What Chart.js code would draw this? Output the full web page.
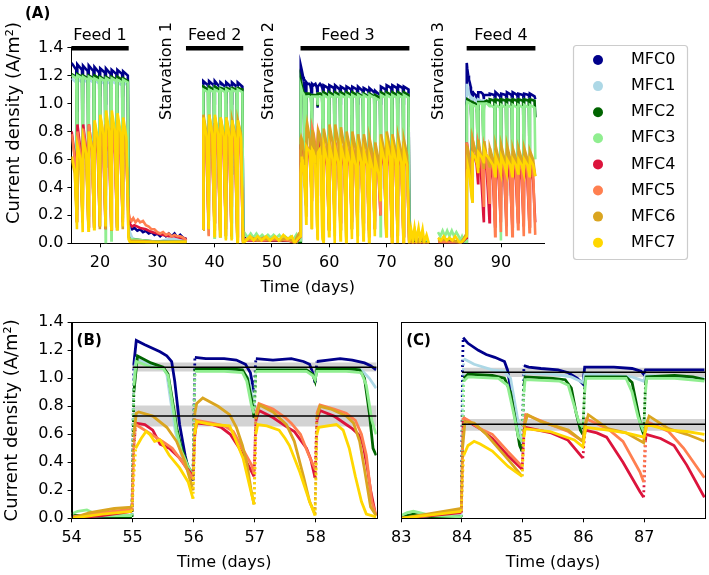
<!DOCTYPE html>
<html>
<head>
<meta charset="utf-8">
<script src="https://cdn.jsdelivr.net/npm/chart.js@4.4.1/dist/chart.umd.min.js"></script>
<style>
  html, body { margin: 0; padding: 0; background: #fff; }
  #wrap { position: relative; width: 709px; height: 575px; }
  canvas { position: absolute; }
</style>
</head>
<body>
<div id="wrap">
  <canvas id="chartA" width="709" height="300" style="left:0;top:0"></canvas>
  <canvas id="chartB" width="385" height="275" style="left:0;top:300px"></canvas>
  <canvas id="chartC" width="324" height="275" style="left:385px;top:300px"></canvas>
</div>
<script>
const names = ['MFC0', 'MFC1', 'MFC2', 'MFC3', 'MFC4', 'MFC5', 'MFC6', 'MFC7'];
const colors = ['#00008b', '#add8e6', '#006400', '#90ee90', '#dc143c', '#ff7f50', '#daa520', '#ffd700'];

const yTicks = [0, 0.2, 0.4, 0.6, 0.8, 1.0, 1.2, 1.4];
const xTicksA = [20, 30, 40, 50, 60, 70, 80, 90];
const xTicksB = [54, 55, 56, 57, 58];
const xTicksC = [83, 84, 85, 86, 87];

// feeding periods (black bars) and the text above panel A
const feedNames = ['Feed 1', 'Feed 2', 'Feed 3', 'Feed 4'];
const feedStart = [15, 35, 55, 84];
const feedEnd = [25, 45, 74, 96];
const feedLabelAt = [20, 40, 63.3, 90];
const starvNames = ['Starvation 1', 'Starvation 2', 'Starvation 3'];
const starvLabelAt = [31.7, 49.4, 79.2];

// start day of each daily cycle drawn coarse in panel A
// (days 55-58 and 84-87 come from the detailed panels B and C)
const feedDays = [
  15, 16, 17, 18, 19, 20, 21, 22, 23, 24,
  38, 39, 40, 41, 42, 43, 44,
  59, 60, 61, 62, 63, 64, 65, 66, 67, 68, 69, 70, 71, 72, 73,
  88, 89, 90, 91, 92, 93, 94, 95
];

// current density right after feeding, late in the cycle, and at the end of the cycle
const cycleTop = [
  [1.29,1.28,1.27,1.27,1.26,1.25,1.25,1.24,1.24,1.23,
   1.16,1.16,1.16,1.15,1.15,1.15,1.15,
   1.13,1.13,1.13,1.12,1.12,1.12,1.12,1.11,1.11,1.09,1.12,1.13,1.13,1.13,1.12,
   1.07,1.08,1.07,1.08,1.08,1.07,1.07,1.07],
  [1.18,1.18,1.17,1.17,1.17,1.16,1.16,1.16,1.15,1.15,
   1.12,1.12,1.12,1.12,1.11,1.11,1.11,
   1.07,1.07,1.07,1.07,1.07,1.07,1.07,1.07,1.07,1.06,1.07,1.07,1.07,1.07,1.07,
   1.03,1.03,1.03,1.03,1.03,1.03,1.03,1.03],
  [1.21,1.21,1.2,1.2,1.2,1.19,1.19,1.19,1.19,1.18,
   1.12,1.12,1.12,1.11,1.11,1.11,1.11,
   1.08,1.08,1.08,1.08,1.08,1.08,1.07,1.07,1.07,1.06,1.08,1.08,1.08,1.08,1.08,
   1.03,1.03,1.03,1.03,1.03,1.03,1.03,1.03],
  [1.2,1.2,1.19,1.19,1.18,1.18,1.18,1.18,1.17,1.17,
   1.1,1.1,1.1,1.1,1.1,1.1,1.1,
   1.06,1.06,1.06,1.06,1.06,1.06,1.06,1.06,1.06,1.04,1.06,1.06,1.06,1.06,1.06,
   0.99,0.99,0.99,0.99,0.99,0.99,0.99,0.99],
  [0.8,0.85,0.85,0.85,0.82,0.85,0.85,0.82,0.8,0.8,
   0.88,0.88,0.86,0.86,0.85,0.85,0.84,
   0.72,0.7,0.72,0.7,0.68,0.7,0.68,0.66,0.65,0.62,0.7,0.7,0.68,0.66,0.65,
   0.6,0.62,0.62,0.6,0.6,0.6,0.58,0.58],
  [0.78,0.8,0.82,0.85,0.87,0.85,0.85,0.82,0.8,0.8,
   0.85,0.85,0.84,0.84,0.83,0.83,0.82,
   0.72,0.74,0.72,0.7,0.72,0.7,0.7,0.68,0.68,0.65,0.72,0.72,0.7,0.68,0.66,
   0.68,0.68,0.66,0.68,0.66,0.66,0.65,0.65],
  [0.6,0.62,0.7,0.8,0.85,0.9,0.9,0.9,0.88,0.85,
   0.92,0.92,0.9,0.9,0.9,0.88,0.88,
   0.82,0.85,0.85,0.83,0.8,0.8,0.78,0.78,0.75,0.72,0.78,0.8,0.78,0.76,0.74,
   0.68,0.7,0.7,0.7,0.68,0.68,0.68,0.66],
  [0.62,0.7,0.75,0.8,0.88,0.92,0.95,0.95,0.93,0.9,
   0.9,0.92,0.92,0.9,0.9,0.88,0.88,
   0.7,0.7,0.68,0.7,0.68,0.66,0.68,0.66,0.62,0.6,0.7,0.72,0.7,0.68,0.66,
   0.6,0.62,0.62,0.6,0.6,0.6,0.6,0.6]
];
const cycleEnd = [
  [1.24,1.24,1.23,1.23,1.22,1.22,1.21,1.21,1.21,1.2,
   1.13,1.13,1.12,1.12,1.12,1.12,1.12,
   1.11,1.11,1.1,1.1,1.1,1.1,1.09,1.09,1.08,1.06,1.1,1.11,1.11,1.11,1.1,
   1.06,1.05,1.06,1.06,1.06,1.06,1.06,1.05],
  [1.15,1.15,1.15,1.15,1.14,1.14,1.14,1.14,1.13,1.13,
   1.1,1.1,1.1,1.1,1.09,1.09,1.09,
   1.06,1.06,1.06,1.06,1.06,1.06,1.06,1.06,1.06,1.04,1.06,1.06,1.06,1.06,1.06,
   1.02,1.02,1.02,1.02,1.02,1.02,1.02,1.02],
  [1.19,1.19,1.18,1.18,1.18,1.17,1.17,1.17,1.17,1.16,
   1.1,1.1,1.1,1.1,1.1,1.1,1.1,
   1.06,1.06,1.06,1.06,1.06,1.06,1.05,1.05,1.05,1.04,1.06,1.06,1.06,1.06,1.06,
   1.02,1.02,1.02,1.02,1.02,1.02,1.02,1.02],
  [1.18,1.18,1.17,1.17,1.16,1.16,1.16,1.16,1.15,1.15,
   1.08,1.08,1.08,1.08,1.08,1.08,1.08,
   1.04,1.04,1.04,1.04,1.04,1.04,1.04,1.04,1.04,1.02,1.04,1.04,1.04,1.04,1.04,
   0.97,0.97,0.97,0.97,0.97,0.97,0.97,0.97],
  [0.62,0.66,0.66,0.66,0.64,0.66,0.66,0.64,0.62,0.62,
   0.65,0.65,0.65,0.65,0.65,0.65,0.65,
   0.55,0.55,0.55,0.55,0.55,0.55,0.55,0.55,0.55,0.5,0.55,0.55,0.55,0.55,0.55,
   0.45,0.45,0.45,0.45,0.45,0.45,0.45,0.45],
  [0.6,0.62,0.64,0.66,0.68,0.66,0.66,0.64,0.62,0.62,
   0.62,0.62,0.62,0.62,0.62,0.62,0.62,
   0.58,0.58,0.58,0.58,0.58,0.58,0.58,0.58,0.58,0.54,0.58,0.58,0.58,0.58,0.58,
   0.52,0.52,0.52,0.52,0.52,0.52,0.52,0.52],
  [0.5,0.52,0.6,0.68,0.72,0.76,0.76,0.76,0.75,0.72,
   0.78,0.78,0.78,0.78,0.78,0.78,0.78,
   0.7,0.72,0.72,0.7,0.68,0.68,0.66,0.66,0.64,0.6,0.66,0.68,0.66,0.65,0.63,
   0.6,0.6,0.6,0.6,0.6,0.6,0.6,0.6],
  [0.52,0.6,0.64,0.68,0.75,0.78,0.8,0.8,0.79,0.76,
   0.76,0.78,0.78,0.76,0.76,0.75,0.75,
   0.6,0.6,0.58,0.6,0.58,0.56,0.58,0.56,0.53,0.5,0.6,0.62,0.6,0.58,0.56,
   0.56,0.56,0.56,0.56,0.56,0.56,0.56,0.56]
];
const cycleLow = [
  [0.95,1.0,1.05,1.0,1.05,1.0,1.05,1.05,1.05,0.2,
   1.0,1.0,1.0,1.0,1.0,1.0,0.05,
   1.0,1.0,1.0,1.0,1.0,1.0,1.0,1.0,1.0,1.0,1.0,1.0,1.0,1.0,0.08,
   1.0,0.97,1.0,1.0,1.0,1.0,1.0,1.03],
  [0.4,0.35,0.3,0.3,0.3,0.25,0.3,0.3,0.3,0.15,
   0.3,0.2,0.2,0.2,0.15,0.15,0.03,
   0.5,0.4,0.5,0.45,0.5,0.4,0.5,0.45,0.5,0.4,0.5,0.45,0.5,0.45,0.03,
   0.6,0.3,0.6,0.6,0.6,0.6,0.6,0.9],
  [0.6,0.55,0.5,0.6,0.5,0.55,0.6,0.65,0.6,0.05,
   0.5,0.4,0.5,0.45,0.5,0.45,0.03,
   0.7,0.6,0.7,0.6,0.7,0.65,0.7,0.6,0.7,0.6,0.7,0.65,0.7,0.6,0.03,
   0.6,0.4,0.6,0.6,0.55,0.6,0.6,0.9],
  [0.25,0.2,0.18,0.15,0.12,0.0,0.02,0.12,0.18,0.05,
   0.06,0.04,0.05,0.03,0.04,0.03,0.04,
   0.1,0.05,0.08,0.04,0.1,0.06,0.05,0.08,0.1,0.05,0.06,0.1,0.05,0.08,0.04,
   0.4,0.02,0.35,0.4,0.35,0.4,0.45,0.6],
  [0.15,0.15,0.12,0.12,0.12,0.1,0.1,0.12,0.15,0.18,
   0.1,0.15,0.1,0.1,0.05,0.05,0.02,
   0.1,0.2,0.15,0.2,0.15,0.1,0.15,0.1,0.1,0.2,0.1,0.05,0.05,0.05,0.02,
   0.12,0.15,0.12,0.12,0.15,0.12,0.12,0.15],
  [0.15,0.18,0.2,0.2,0.2,0.15,0.15,0.2,0.2,0.22,
   0.05,0.15,0.1,0.05,0.05,0.02,0.02,
   0.15,0.15,0.1,0.15,0.1,0.1,0.1,0.05,0.1,0.2,0.05,0.0,0.0,0.0,0.0,
   0.05,0.08,0.05,0.05,0.1,0.05,0.08,0.06],
  [0.15,0.15,0.12,0.12,0.1,0.1,0.1,0.1,0.1,0.05,
   0.1,0.1,0.05,0.05,0.05,0.03,0.02,
   0.1,0.1,0.1,0.05,0.1,0.1,0.08,0.1,0.15,0.3,0.1,0.05,0.05,0.05,0.02,
   0.52,0.5,0.5,0.52,0.5,0.5,0.5,0.48],
  [0.1,0.08,0.09,0.1,0.12,0.12,0.1,0.1,0.12,0.03,
   0.1,0.05,0.05,0.02,0.02,0.0,0.0,
   0.05,0.0,0.02,0.0,0.03,0.0,0.02,0.0,0.05,0.3,0.05,0.0,0.0,0.0,0.0,
   0.48,0.5,0.5,0.48,0.5,0.5,0.48,0.48]
];

// starvation periods, [day, current density]; null = no data
const starv1 = [
  [[25.2,0.12],[25.6,0.1],[26,0.11],[26.5,0.09],[27,0.1],[27.5,0.08],[28,0.09],[28.5,0.07],[29,0.08],[29.5,0.06],[30,0.07],[30.5,0.05],[31,0.07],[31.5,0.05],[32,0.07],[32.5,0.05],[33,0.07],[33.5,0.04],[34,0.06],[34.5,0.04],[35.1,0.03],[36.5,null],[37.98,0.15]],
  [[25.2,0.08],[25.6,0.04],[26,0.03],[27,0.02],[28,0.01],[30,0.01],[31,0.02],[32,0.03],[34,0.03],[35.1,0.02],[36.5,null],[37.98,0.12]],
  [[25.2,0.03],[30,0.01],[35.1,0.01],[36.5,null],[37.98,0.1]],
  [[25.2,0.03],[30,0.01],[35.1,0.01],[36.5,null],[37.98,0.1]],
  [[25.2,0.14],[25.6,0.12],[26,0.13],[27,0.11],[28,0.1],[29,0.08],[30,0.07],[31,0.06],[32,0.05],[33,0.05],[34,0.04],[35.1,0.03],[36.5,null],[37.98,0.1]],
  [[25.2,0.18],[25.5,0.16],[25.8,0.18],[26.2,0.15],[26.6,0.17],[27,0.15],[27.5,0.16],[28,0.13],[28.5,0.12],[29,0.1],[29.5,0.1],[30,0.08],[30.5,0.07],[31,0.08],[31.5,0.06],[32,0.07],[32.5,0.05],[33,0.06],[33.5,0.05],[34,0.05],[34.5,0.04],[35.1,0.02],[36.5,null],[37.98,0.1]],
  [[25.2,0.02],[30,0.01],[35.1,0.01],[36.5,null],[37.98,0.1]],
  [[25.2,0.01],[30,0.005],[35.1,0.01],[36.5,null],[37.98,0.1]]
];
const starv2 = [
  [[45.5,0.03],[47,0.02],[49,0.03],[51,0.02],[53,0.02]],
  [[45.5,0.02],[50,0.02],[53,0.015]],
  [[45.5,0.03],[50,0.02],[53,0.02]],
  [[45.3,0.07],[45.8,0.04],[46.3,0.07],[46.8,0.04],[47.3,0.07],[47.8,0.04],[48.3,0.06],[48.8,0.04],[49.3,0.06],[49.8,0.04],[50.3,0.06],[50.8,0.04],[51.3,0.06],[51.8,0.03],[52.3,0.05],[52.8,0.03],[53.3,0.05],[53.8,0.03]],
  [[45.5,0.02],[50,0.02],[53,0.02]],
  [[45.5,0.03],[48,0.02],[51,0.03],[53,0.02]],
  [[45.5,0.02],[46.5,0.04],[47.5,0.02],[48.5,0.04],[49.5,0.02],[50.5,0.04],[51.5,0.02],[52.5,0.04],[53.5,0.02]],
  [[45.5,0.02],[46.2,0.05],[46.8,0.02],[47.5,0.05],[48.2,0.02],[49,0.05],[49.7,0.02],[50.5,0.05],[51.2,0.02],[52,0.06],[52.7,0.03],[53.5,0.05],[53.9,0.01]]
];
const starv3 = [
  [[74.5,0.01],[77.4,0.01],[78.2,null],[79,0.01],[82.9,0.01]],
  [[74.5,0.02],[77.4,0.01],[78.2,null],[79,0.02],[82.9,0.01]],
  [[74.5,0.02],[77.4,0.01],[78.2,null],[79,0.03],[82.9,0.01]],
  [[74.3,0.03],[77.4,0.02],[78.2,null],[79,0.08],[79.4,0.05],[79.8,0.09],[80.2,0.05],[80.6,0.09],[81,0.05],[81.4,0.09],[81.8,0.05],[82.2,0.08],[82.6,0.05],[82.9,0.02]],
  [[74.5,0.0],[77.4,0.0],[78.2,null],[79,0.01],[82.9,0.0]],
  [[74.5,0.0],[77.4,0.0],[78.2,null],[79,0.01],[82.9,0.0]],
  [[74.3,0.08],[74.6,0.0],[75,0.08],[75.4,0.0],[76,0.06],[76.5,0.0],[77.4,0.0],[78.2,null],[79,0.02],[81,0.03],[82.9,0.0]],
  [[74.3,0.1],[74.6,0.02],[74.9,0.11],[75.2,0.02],[75.6,0.11],[75.9,0.02],[76.3,0.1],[76.6,0.01],[77,0.06],[77.4,0.0],[78.2,null],[79,0.04],[79.5,0.02],[80,0.05],[80.5,0.02],[81,0.04],[81.5,0.02],[82,0.05],[82.5,0.02],[82.9,0.0]]
];

// detail, days 54-59 (panel B)
const zoomB = [
  [[54,0.01],[54.5,0.01],[54.99,0.02],[55.02,1.1],[55.06,1.27],[55.2,1.24],[55.45,1.19],[55.56,1.16],[55.64,1.12],[55.69,0.98],[55.77,0.67],[55.86,0.45],[55.94,0.3],[55.99,0.27],[56.02,1.15],[56.2,1.14],[56.5,1.14],[56.7,1.13],[56.85,1.1],[56.93,1.04],[56.99,0.9],[57.02,1.14],[57.3,1.13],[57.6,1.14],[57.8,1.12],[57.9,1.1],[57.96,1.03],[57.99,0.97],[58.02,1.12],[58.2,1.13],[58.4,1.14],[58.6,1.13],[58.8,1.11],[58.9,1.09],[58.99,1.06]],
  [[54,0.01],[54.99,0.02],[55.02,1.0],[55.06,1.14],[55.3,1.09],[55.5,1.07],[55.56,1.03],[55.62,0.85],[55.7,0.62],[55.8,0.45],[55.9,0.36],[55.99,0.3],[56.02,1.06],[56.5,1.06],[56.8,1.05],[56.9,1.0],[56.99,0.8],[57.02,1.06],[57.5,1.06],[57.9,1.05],[57.99,1.0],[58.02,1.07],[58.5,1.07],[58.75,1.06],[58.88,1.0],[58.99,0.93]],
  [[54,0.02],[54.99,0.01],[55.02,0.9],[55.08,1.16],[55.3,1.11],[55.5,1.08],[55.58,1.03],[55.65,0.85],[55.72,0.65],[55.8,0.5],[55.9,0.38],[55.99,0.3],[56.02,1.07],[56.5,1.07],[56.8,1.06],[56.88,1.0],[56.95,0.85],[56.99,0.72],[57.02,1.06],[57.5,1.06],[57.85,1.06],[57.95,1.03],[57.99,0.98],[58.02,1.07],[58.5,1.07],[58.72,1.06],[58.8,1.0],[58.88,0.75],[58.94,0.5],[58.99,0.45]],
  [[54,0.03],[54.1,0.05],[54.25,0.06],[54.35,0.04],[54.5,0.02],[54.99,0.02],[55.02,0.95],[55.06,1.12],[55.3,1.08],[55.5,1.07],[55.58,1.02],[55.64,0.85],[55.72,0.62],[55.8,0.48],[55.9,0.38],[55.99,0.3],[56.02,1.05],[56.5,1.05],[56.8,1.04],[56.87,0.98],[56.95,0.8],[56.99,0.75],[57.02,1.05],[57.5,1.05],[57.85,1.05],[57.95,1.02],[57.99,0.99],[58.02,1.05],[58.5,1.05],[58.75,1.04],[58.83,0.95],[58.92,0.7],[58.99,0.6]],
  [[54,0.0],[54.5,0.02],[54.99,0.05],[55.02,0.5],[55.05,0.68],[55.2,0.67],[55.33,0.63],[55.45,0.53],[55.6,0.5],[55.77,0.43],[55.99,0.3],[56.02,0.6],[56.05,0.68],[56.3,0.67],[56.45,0.65],[56.6,0.6],[56.75,0.5],[56.87,0.4],[56.99,0.3],[57.02,0.7],[57.07,0.77],[57.3,0.72],[57.5,0.66],[57.65,0.62],[57.75,0.56],[57.85,0.5],[57.92,0.42],[57.99,0.29],[58.02,0.7],[58.07,0.77],[58.3,0.73],[58.5,0.67],[58.6,0.64],[58.7,0.6],[58.78,0.52],[58.85,0.35],[58.9,0.2],[58.97,0.05],[58.99,0.02]],
  [[54,0.01],[54.5,0.04],[54.99,0.065],[55.02,0.5],[55.05,0.67],[55.27,0.61],[55.49,0.55],[55.65,0.5],[55.82,0.4],[55.99,0.28],[56.02,0.62],[56.05,0.7],[56.3,0.68],[56.5,0.66],[56.65,0.62],[56.8,0.5],[56.95,0.38],[56.99,0.32],[57.02,0.75],[57.07,0.82],[57.3,0.78],[57.5,0.72],[57.6,0.68],[57.75,0.6],[57.87,0.47],[57.99,0.35],[58.02,0.75],[58.07,0.81],[58.3,0.78],[58.5,0.75],[58.65,0.7],[58.75,0.6],[58.83,0.45],[58.92,0.12],[58.99,0.02]],
  [[54,0.0],[54.3,0.04],[54.7,0.07],[54.99,0.08],[55.02,0.6],[55.06,0.75],[55.1,0.76],[55.33,0.73],[55.56,0.65],[55.72,0.55],[55.86,0.4],[55.99,0.2],[56.02,0.75],[56.05,0.82],[56.15,0.86],[56.4,0.8],[56.59,0.74],[56.7,0.65],[56.8,0.52],[56.87,0.4],[56.95,0.18],[56.99,0.1],[57.02,0.72],[57.08,0.81],[57.3,0.76],[57.52,0.67],[57.65,0.55],[57.8,0.3],[57.9,0.12],[57.99,0.03],[58.02,0.72],[58.07,0.8],[58.25,0.78],[58.5,0.73],[58.62,0.68],[58.72,0.55],[58.8,0.35],[58.9,0.08],[58.99,0.02]],
  [[54,0.0],[54.5,0.03],[54.99,0.05],[55.02,0.3],[55.05,0.5],[55.14,0.57],[55.22,0.62],[55.28,0.6],[55.36,0.55],[55.45,0.56],[55.6,0.45],[55.77,0.36],[55.91,0.26],[55.99,0.14],[56.02,0.6],[56.05,0.69],[56.3,0.67],[56.59,0.66],[56.68,0.57],[56.81,0.43],[56.94,0.19],[56.99,0.1],[57.02,0.6],[57.05,0.67],[57.2,0.66],[57.4,0.63],[57.5,0.57],[57.57,0.52],[57.74,0.33],[57.9,0.12],[57.99,0.02],[58.02,0.6],[58.05,0.65],[58.34,0.67],[58.45,0.63],[58.55,0.5],[58.65,0.3],[58.75,0.12],[58.83,0.03],[58.99,0.01]]
];

// detail, days 83-88 (panel C)
const zoomC = [
  [[83,0.0],[83.99,0.01],[84.01,1.1],[84.02,1.29],[84.1,1.25],[84.27,1.2],[84.4,1.17],[84.54,1.15],[84.7,1.12],[84.75,1.06],[84.81,0.9],[84.89,0.69],[84.99,0.48],[85.02,1.09],[85.1,1.08],[85.3,1.07],[85.58,1.06],[85.75,1.04],[85.9,1.0],[85.99,0.96],[86.02,1.08],[86.5,1.08],[86.8,1.07],[86.95,1.05],[86.99,1.03],[87.02,1.06],[87.5,1.06],[87.99,1.06]],
  [[83,0.01],[83.99,0.02],[84.01,0.9],[84.03,1.14],[84.2,1.1],[84.5,1.06],[84.7,1.05],[84.8,1.0],[84.9,0.75],[84.99,0.52],[85.02,1.04],[85.5,1.03],[85.8,1.01],[85.99,0.97],[86.02,1.03],[86.5,1.02],[86.8,1.01],[86.99,0.98],[87.02,1.02],[87.5,1.01],[87.99,1.0]],
  [[83,0.01],[83.2,0.03],[83.5,0.01],[83.99,0.01],[84.01,0.6],[84.03,1.0],[84.1,1.03],[84.5,1.02],[84.7,1.0],[84.8,0.9],[84.88,0.7],[84.95,0.52],[84.99,0.48],[85.02,0.95],[85.04,1.01],[85.5,1.0],[85.7,0.99],[85.8,0.93],[85.88,0.75],[85.95,0.63],[85.99,0.6],[86.02,0.95],[86.04,1.01],[86.7,1.01],[86.8,0.97],[86.88,0.8],[86.95,0.65],[86.99,0.6],[87.02,0.95],[87.04,1.01],[87.5,1.02],[87.8,1.01],[87.99,0.99]],
  [[83,0.02],[83.1,0.04],[83.2,0.05],[83.3,0.04],[83.5,0.02],[83.99,0.01],[84.01,0.6],[84.03,0.98],[84.1,1.01],[84.6,1.0],[84.75,0.95],[84.85,0.75],[84.93,0.58],[84.99,0.55],[85.02,0.9],[85.04,0.99],[85.6,0.98],[85.75,0.95],[85.85,0.8],[85.93,0.68],[85.99,0.65],[86.02,0.9],[86.04,1.0],[86.7,1.0],[86.8,0.9],[86.9,0.72],[86.99,0.62],[87.02,0.9],[87.04,1.0],[87.5,1.0],[87.99,0.98]],
  [[83,0.0],[83.5,0.02],[83.99,0.04],[84.01,0.5],[84.02,0.72],[84.1,0.69],[84.3,0.64],[84.5,0.57],[84.75,0.45],[84.99,0.35],[85.02,0.6],[85.03,0.65],[85.47,0.61],[85.74,0.56],[85.99,0.43],[86.02,0.6],[86.03,0.63],[86.22,0.61],[86.38,0.58],[86.65,0.4],[86.93,0.19],[86.99,0.15],[87.02,0.55],[87.03,0.6],[87.27,0.57],[87.49,0.52],[87.7,0.38],[87.99,0.15]],
  [[83,0.0],[83.5,0.03],[83.99,0.06],[84.01,0.5],[84.02,0.72],[84.1,0.7],[84.3,0.64],[84.5,0.6],[84.75,0.48],[84.99,0.37],[85.02,0.65],[85.05,0.74],[85.45,0.67],[85.75,0.62],[85.99,0.55],[86.02,0.65],[86.05,0.71],[86.4,0.64],[86.65,0.55],[86.93,0.33],[86.99,0.26],[87.02,0.62],[87.05,0.69],[87.4,0.62],[87.65,0.5],[87.99,0.29]],
  [[83,0.0],[83.5,0.035],[83.99,0.07],[84.01,0.5],[84.05,0.69],[84.2,0.68],[84.4,0.6],[84.6,0.5],[84.8,0.4],[84.99,0.3],[85.02,0.65],[85.08,0.74],[85.3,0.69],[85.75,0.63],[85.99,0.55],[86.02,0.65],[86.08,0.74],[86.4,0.64],[86.7,0.61],[86.99,0.54],[87.02,0.65],[87.08,0.73],[87.4,0.64],[87.7,0.6],[87.99,0.55]],
  [[83,0.0],[83.5,0.025],[83.99,0.05],[84.01,0.3],[84.03,0.45],[84.1,0.52],[84.2,0.55],[84.3,0.53],[84.5,0.48],[84.76,0.37],[84.99,0.3],[85.02,0.58],[85.04,0.64],[85.45,0.62],[85.85,0.56],[85.99,0.51],[86.02,0.6],[86.04,0.65],[86.4,0.63],[86.7,0.61],[86.99,0.58],[87.02,0.62],[87.04,0.67],[87.4,0.63],[87.7,0.62],[87.99,0.6]]
];

// mean and spread of the two groups, drawn in panels B and C
const meanB = [1.079, 0.731];
const lowB = [1.048, 0.655];
const highB = [1.112, 0.805];
const meanC = [1.043, 0.671];
const lowC = [1.01, 0.625];
const highC = [1.075, 0.71];

const yTitle = 'Current density (A/m²)';

Chart.defaults.font.family = '"DejaVu Sans", sans-serif';
Chart.defaults.font.size = 16;
Chart.defaults.color = '#000';
Chart.defaults.plugins.legend.display = false;
Chart.defaults.plugins.tooltip.enabled = false;

const plateau = [0.03, 0.85, 0.98];
const decline = [0.05, 0.6, 0.97];

function cycles(i, from, to) {
  const ph = i < 4 ? plateau : decline;
  const pts = [];
  for (let k = from; k < to; k++) {
    const d = feedDays[k];
    pts.push({x: d + ph[0], y: cycleTop[i][k]});
    pts.push({x: d + ph[1], y: cycleEnd[i][k]});
    pts.push({x: d + ph[2], y: cycleLow[i][k]});
  }
  return pts;
}
const toPts = arr => arr.map(p => ({x: p[0], y: p[1]}));

function seriesA(i) {
  return [].concat(
    cycles(i, 0, 10), toPts(starv1[i]),
    cycles(i, 10, 17), toPts(starv2[i]), toPts(zoomB[i]),
    cycles(i, 17, 32), toPts(starv3[i]), toPts(zoomC[i]),
    cycles(i, 32, 40)
  );
}

function xAxis(min, max, ticks, height, titlePad) {
  return {
    type: 'linear', min: min, max: max,
    afterBuildTicks: s => { s.ticks = ticks.map(v => ({value: v})); },
    afterFit: s => { s.height = height; },
    grid: {drawOnChartArea: false, tickLength: 4, tickColor: '#000'},
    border: {color: '#000', width: 1},
    ticks: {padding: 6},
    title: {display: true, text: 'Time (days)', padding: {top: 0, bottom: titlePad}}
  };
}
function yAxis(width, showLabels, showTitle) {
  return {
    min: 0, max: 1.4,
    afterBuildTicks: s => { s.ticks = yTicks.map(v => ({value: v})); },
    afterFit: s => { s.width = width; },
    grid: {display: showLabels, drawOnChartArea: false, tickLength: 4, tickColor: '#000'},
    border: {color: '#000', width: 1},
    ticks: {display: showLabels, padding: 4, callback: v => v.toFixed(1)},
    title: {display: showTitle, text: yTitle, font: {size: 18}, padding: {top: 2, bottom: 0}}
  };
}

// ---------- panel A ----------
const dsA = names.map((n, i) => ({
  label: n, data: seriesA(i), borderColor: colors[i], backgroundColor: colors[i],
  borderWidth: 2.6, pointRadius: 0, order: 20 - i
}));
const barPts = [];
feedStart.forEach((s, k) => {
  barPts.push({x: s, y: 1.395}, {x: feedEnd[k], y: 1.395}, {x: feedEnd[k] + 1, y: null});
});
dsA.push({label: 'feed', data: barPts, borderColor: '#000', borderWidth: 4.5, pointRadius: 0, order: 0, clip: false});

const annotateA = {
  id: 'annotateA',
  afterDraw(chart) {
    const {ctx, chartArea, scales} = chart;
    const x = scales.x;
    ctx.save();
    ctx.fillStyle = '#000';
    ctx.font = '16px "DejaVu Sans"';
    ctx.textAlign = 'center';
    ctx.textBaseline = 'alphabetic';
    feedNames.forEach((t, k) => ctx.fillText(t, x.getPixelForValue(feedLabelAt[k]), chartArea.top - 7.5));
    starvNames.forEach((t, k) => {
      ctx.save();
      ctx.translate(x.getPixelForValue(starvLabelAt[k]), chartArea.top + 72.5);
      ctx.rotate(-Math.PI / 2);
      ctx.textAlign = 'left';
      ctx.textBaseline = 'middle';
      ctx.fillText(t, 0, 0);
      ctx.restore();
    });
    // y axis title, set a little above the middle as in the figure
    ctx.save();
    ctx.translate(14.5, 123);
    ctx.rotate(-Math.PI / 2);
    ctx.font = '18px "DejaVu Sans"';
    ctx.textAlign = 'center';
    ctx.textBaseline = 'middle';
    ctx.fillText(yTitle, 0, 0);
    ctx.restore();
    ctx.font = 'bold 15px "DejaVu Sans"';
    ctx.textAlign = 'left';
    ctx.fillText('(A)', 25, 18);
    // legend
    const lx = 573, ly = 45;
    ctx.fillStyle = 'rgba(255,255,255,0.8)';
    ctx.strokeStyle = '#cccccc';
    ctx.lineWidth = 1.2;
    ctx.beginPath();
    ctx.roundRect(lx + 0.5, ly + 0.5, 114, 214, 3);
    ctx.fill();
    ctx.stroke();
    ctx.font = '16px "DejaVu Sans"';
    ctx.textBaseline = 'middle';
    names.forEach((n, i) => {
      const cy = ly + 15 + i * 26.1;
      ctx.fillStyle = colors[i];
      ctx.beginPath();
      ctx.arc(lx + 25, cy, 5, 0, 2 * Math.PI);
      ctx.fill();
      ctx.fillStyle = '#000';
      ctx.fillText(n, lx + 58, cy);
    });
    ctx.restore();
  }
};

new Chart(document.getElementById('chartA'), {
  type: 'line',
  data: {datasets: dsA},
  options: {
    responsive: false, animation: false, events: [],
    layout: {padding: {top: 47.5, right: 165, bottom: 2.7, left: 0}},
    scales: {
      x: xAxis(15, 97.5, xTicksA, 54, 0),
      y: yAxis(71.4, true, false)
    }
  },
  plugins: [annotateA]
});

// ---------- panels B and C ----------
// the fast rise after each feeding is only a few sparse samples: draw it dotted
const sparse = c => (c.p1.parsed.x - c.p0.parsed.x < 0.035 && Math.abs(c.p1.parsed.y - c.p0.parsed.y) > 0.15) ? [2, 3] : undefined;

function zoomDatasets(zoom, mean, low, high, from, to) {
  const ds = [];
  mean.forEach((m, j) => {
    ds.push({data: [{x: from, y: high[j]}, {x: to, y: high[j]}], fill: '+1', backgroundColor: 'rgba(128,128,128,0.35)',
             borderWidth: 0, borderColor: 'rgba(0,0,0,0)', pointRadius: 0, order: 50});
    ds.push({data: [{x: from, y: low[j]}, {x: to, y: low[j]}], fill: false,
             borderWidth: 0, borderColor: 'rgba(0,0,0,0)', pointRadius: 0, order: 50});
  });
  names.forEach((n, i) => ds.push({
    label: n, data: toPts(zoom[i]), borderColor: colors[i], borderWidth: 2.8, pointRadius: 0, order: 20 - i,
    segment: {borderDash: sparse}
  }));
  mean.forEach(m => ds.push({data: [{x: from, y: m}, {x: to, y: m}], borderColor: '#000', borderWidth: 1.5, pointRadius: 0, order: 0}));
  return ds;
}

function framePlugin(letter) {
  return {
    id: 'frame',
    afterDraw(chart) {
      const {ctx, chartArea: a} = chart;
      ctx.save();
      ctx.strokeStyle = '#000';
      ctx.lineWidth = 1;
      ctx.strokeRect(Math.round(a.left) + 0.5, Math.round(a.top) + 0.5, Math.round(a.right - a.left), Math.round(a.bottom - a.top));
      ctx.fillStyle = '#000';
      ctx.font = 'bold 15px "DejaVu Sans"';
      ctx.textBaseline = 'alphabetic';
      ctx.fillText(letter, a.left + 5, a.top + 22.3);
      ctx.restore();
    }
  };
}

new Chart(document.getElementById('chartB'), {
  type: 'line',
  data: {datasets: zoomDatasets(zoomB, meanB, lowB, highB, 55, 59)},
  options: {
    responsive: false, animation: false, events: [],
    layout: {padding: {top: 22.3, right: 8.3, bottom: 0, left: 0}},
    scales: {x: xAxis(54, 59, xTicksB, 56.7, 2.9), y: yAxis(71.6, true, true)}
  },
  plugins: [framePlugin('(B)')]
});

new Chart(document.getElementById('chartC'), {
  type: 'line',
  data: {datasets: zoomDatasets(zoomC, meanC, lowC, highC, 84, 88)},
  options: {
    responsive: false, animation: false, events: [],
    layout: {padding: {top: 22.3, right: 4, bottom: 0, left: 0}},
    scales: {x: xAxis(83, 88, xTicksC, 56.7, 2.9), y: yAxis(14.3, false, false)}
  },
  plugins: [framePlugin('(C)')]
});
</script>
</body>
</html>
